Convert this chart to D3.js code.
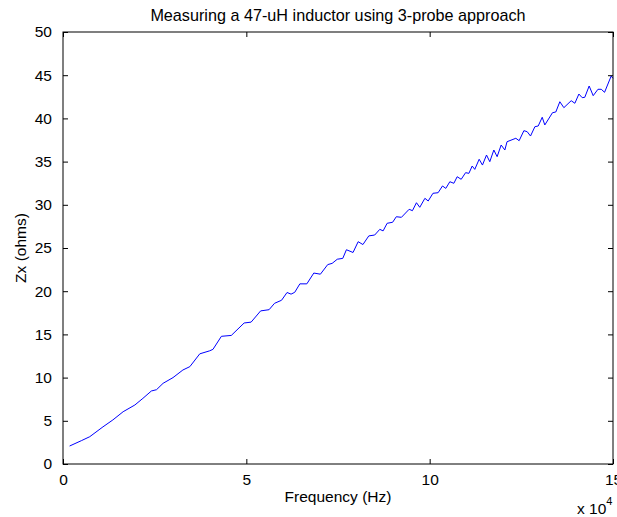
<!DOCTYPE html>
<html>
<head>
<meta charset="utf-8">
<script src="https://cdn.jsdelivr.net/npm/d3@7"></script>
<style>
  html, body { margin: 0; padding: 0; background: #fff; }
  svg { display: block; font-family: "Liberation Sans", Arial, Helvetica, sans-serif; }
</style>
</head>
<body>
<svg id="chart" width="617" height="517"></svg>
<script>
// Measured impedance of a 47 uH inductor (3-probe method)
const frequencyHz = [
  1800, 5000, 7300, 10900, 13600, 16400, 19600, 21800, 24100, 25500,
  27300, 30000, 32700, 34600, 37300, 40000, 40900, 43200, 45900, 49400,
  51300, 53900, 56200, 57700, 59600, 61100, 62200, 63200, 64600, 66500,
  68400, 70200, 72200, 73400, 74800, 76300, 77300, 79100, 80500, 81800,
  83400, 85000, 86400, 87300, 88400, 89900, 90900, 92300, 94400, 95300,
  96400, 97300, 98700, 99600, 100900, 102300, 103500, 104400, 105500, 106600,
  107500, 108600, 109800, 110700, 111600, 112300, 113500, 114400, 115500, 116400,
  117500, 118400, 119500, 120500, 121100, 123500, 124400, 125700, 126600, 127500,
  128700, 129600, 130700, 131400, 133500, 134400, 135500, 136600, 138600, 139600,
  140700, 141600, 142300, 143500, 144600, 145900, 146800, 147700, 149500, 150000
];
const impedanceOhms = [
  2.08, 2.70, 3.16, 4.30, 5.10, 6.05, 6.83, 7.60, 8.45, 8.60,
  9.34, 10.00, 10.88, 11.27, 12.75, 13.10, 13.27, 14.78, 14.88, 16.32,
  16.42, 17.72, 17.86, 18.60, 18.95, 19.85, 19.66, 19.87, 20.85, 20.85,
  22.10, 21.97, 23.08, 23.22, 23.70, 23.80, 24.80, 24.48, 25.73, 25.40,
  26.40, 26.50, 27.16, 26.98, 27.86, 27.98, 28.62, 28.55, 29.48, 29.32,
  30.24, 29.71, 30.75, 30.44, 31.33, 31.40, 32.18, 31.90, 32.67, 32.49,
  33.25, 32.95, 33.72, 33.64, 34.49, 34.10, 35.27, 34.60, 35.76, 34.99,
  36.34, 35.57, 36.92, 36.34, 37.30, 37.70, 37.42, 38.58, 38.46, 37.96,
  39.04, 39.12, 40.13, 39.24, 40.66, 40.74, 41.93, 41.24, 42.05, 41.75,
  42.82, 42.40, 42.44, 43.75, 42.63, 43.37, 43.37, 43.02, 44.90, 44.64
];
const xTicks = [0, 50000, 100000, 150000];
const xTickLabels = ["0", "5", "10", "15"];
const yTicks = [0, 5, 10, 15, 20, 25, 30, 35, 40, 45, 50];

const titleText = "Measuring a 47-uH inductor using 3-probe approach";
const xLabelText = "Frequency (Hz)";
const yLabelText = "Zx (ohms)";

const svg = d3.select("#chart");
const margin = { left: 63, top: 32, right: 4, bottom: 53 };
const W = 617 - margin.left - margin.right;
const H = 517 - margin.top - margin.bottom;

const x = d3.scaleLinear().domain([0, 150000]).range([0, W]);
const y = d3.scaleLinear().domain([0, 50]).range([H, 0]);

const g = svg.append("g").attr("transform", `translate(${margin.left},${margin.top})`);

const data = frequencyHz.map((f, i) => ({ f, z: impedanceOhms[i] }));

// trace
g.append("path")
  .datum(data)
  .attr("fill", "none")
  .attr("stroke", "#0000ff")
  .attr("stroke-width", 1)
  .attr("d", d3.line().x(d => x(d.f)).y(d => y(d.z)));

// box
g.append("rect")
  .attr("x", 0).attr("y", 0).attr("width", W).attr("height", H)
  .attr("fill", "none").attr("stroke", "#000").attr("stroke-width", 1);

const tickLen = 5;
const tickFmt = d => xTickLabels[xTicks.indexOf(d)];

// inward ticks on all four sides
const xBottom = d3.axisBottom(x).tickValues(xTicks).tickSizeInner(-tickLen).tickSizeOuter(0)
  .tickPadding(10).tickFormat(tickFmt);
const xTop = d3.axisTop(x).tickValues(xTicks).tickSizeInner(-tickLen).tickSizeOuter(0).tickFormat("");
const yLeft = d3.axisLeft(y).tickValues(yTicks).tickSizeInner(-tickLen).tickSizeOuter(0)
  .tickPadding(11).tickFormat(d3.format("d"));
const yRight = d3.axisRight(y).tickValues(yTicks).tickSizeInner(-tickLen).tickSizeOuter(0).tickFormat("");

function styleAxis(sel) {
  sel.select(".domain").remove();
  sel.selectAll(".tick line").attr("stroke", "#000");
  sel.selectAll(".tick text").attr("fill", "#000").attr("font-size", 15.5)
    .attr("font-family", "'Liberation Sans', Arial, sans-serif");
}

g.append("g").attr("transform", `translate(0,${H})`).call(xBottom).call(styleAxis);
g.append("g").call(xTop).call(styleAxis);
g.append("g").call(yLeft).call(styleAxis);
g.append("g").attr("transform", `translate(${W},0)`).call(yRight).call(styleAxis);

// title and axis labels
svg.append("text")
  .attr("x", margin.left + W / 2).attr("y", 21)
  .attr("text-anchor", "middle").attr("font-size", 16.2).attr("fill", "#000")
  .text(titleText);

svg.append("text")
  .attr("x", margin.left + W / 2).attr("y", 502)
  .attr("text-anchor", "middle").attr("font-size", 15.5).attr("fill", "#000")
  .text(xLabelText);

svg.append("text")
  .attr("transform", `translate(26,${margin.top + H / 2}) rotate(-90)`)
  .attr("text-anchor", "middle").attr("font-size", 15.5).attr("fill", "#000")
  .text(yLabelText);

// x-axis exponent
const expo = svg.append("text")
  .attr("x", 577).attr("y", 514).attr("font-size", 15.5).attr("fill", "#000");
expo.append("tspan").text("x 10");
expo.append("tspan").attr("font-size", 11).attr("dy", -9).text("4");
</script>
</body>
</html>
